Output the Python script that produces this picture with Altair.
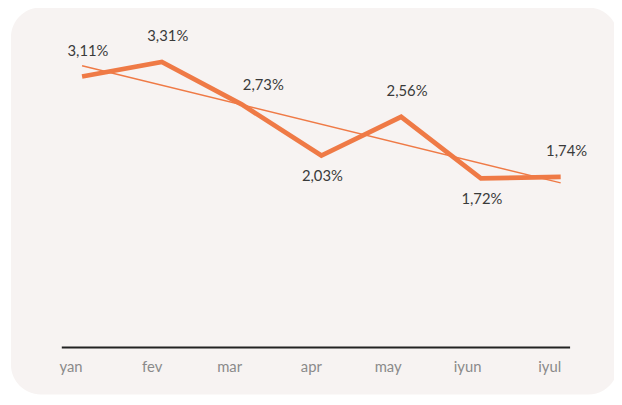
import altair as alt
import pandas as pd

months = ["yan", "fev", "mar", "apr", "may", "iyun", "iyul"]
values = [3.11, 3.31, 2.73, 2.03, 2.56, 1.72, 1.74]
labels = ["3,11%", "3,31%", "2,73%", "2,03%", "2,56%", "1,72%", "1,74%"]
label_side = ["above", "above", "right", "below", "above", "below", "above"]

df = pd.DataFrame({"month": months, "value": values, "label": labels,
                   "side": label_side, "idx": list(range(len(months)))})

ORANGE = "#EF7A46"
CARD = "#F7F3F2"
FONT = "Lato"

x_scale = alt.Scale(type="point", padding=0.186, align=0.7)
x_enc = alt.X("month:N", sort=months, scale=x_scale,
              axis=alt.Axis(title=None, ticks=False, grid=False, domain=True,
                            domainColor="#222222", domainWidth=2,
                            labelColor="#8a8a8a", labelFontSize=15,
                            labelFont=FONT, labelPadding=20, labelAngle=0,
                            zindex=1))
y_scale = alt.Scale(domain=[-0.585, 3.903], nice=False, zero=False)
y_enc = alt.Y("value:Q", scale=y_scale, axis=None)

base = alt.Chart(df)

card = base.mark_rect(color=CARD, cornerRadius=30).encode(
    x=alt.value(-51), x2=alt.value(564), y=alt.value(-11), y2=alt.value(381)
).transform_filter("datum.idx == 0")

trend_line = base.transform_regression("idx", "value").transform_calculate(
    month="['yan','fev','mar','apr','may','iyun','iyul'][datum.idx]"
).mark_line(color=ORANGE, strokeWidth=1.5).encode(
    x=alt.X("month:N", sort=months, scale=x_scale),
    y=y_enc,
)

line = base.mark_line(color=ORANGE, strokeWidth=4.8, strokeJoin="miter").encode(
    x=x_enc, y=y_enc
)

def text_layer(side, dx, dy):
    return base.mark_text(fontSize=15, font=FONT, color="#3a3a3a",
                          dx=dx, dy=dy, baseline="middle").encode(
        x=x_enc, y=y_enc, text="label:N"
    ).transform_filter(f"datum.side == '{side}'")

txt_above = text_layer("above", 6, -26)
txt_below = text_layer("below", 1, 21)
txt_right = text_layer("right", 22, -20)

chart = alt.layer(card, trend_line, line, txt_above, txt_below, txt_right).properties(
    width=515, height=333,
    padding={"left": 54, "top": 8, "right": 45, "bottom": 48},
    autosize=alt.AutoSizeParams(type="none"),
    background="white",
).configure_view(stroke=None)

chart.save("out.html", embed_options={"renderer": "svg", "actions": False})
